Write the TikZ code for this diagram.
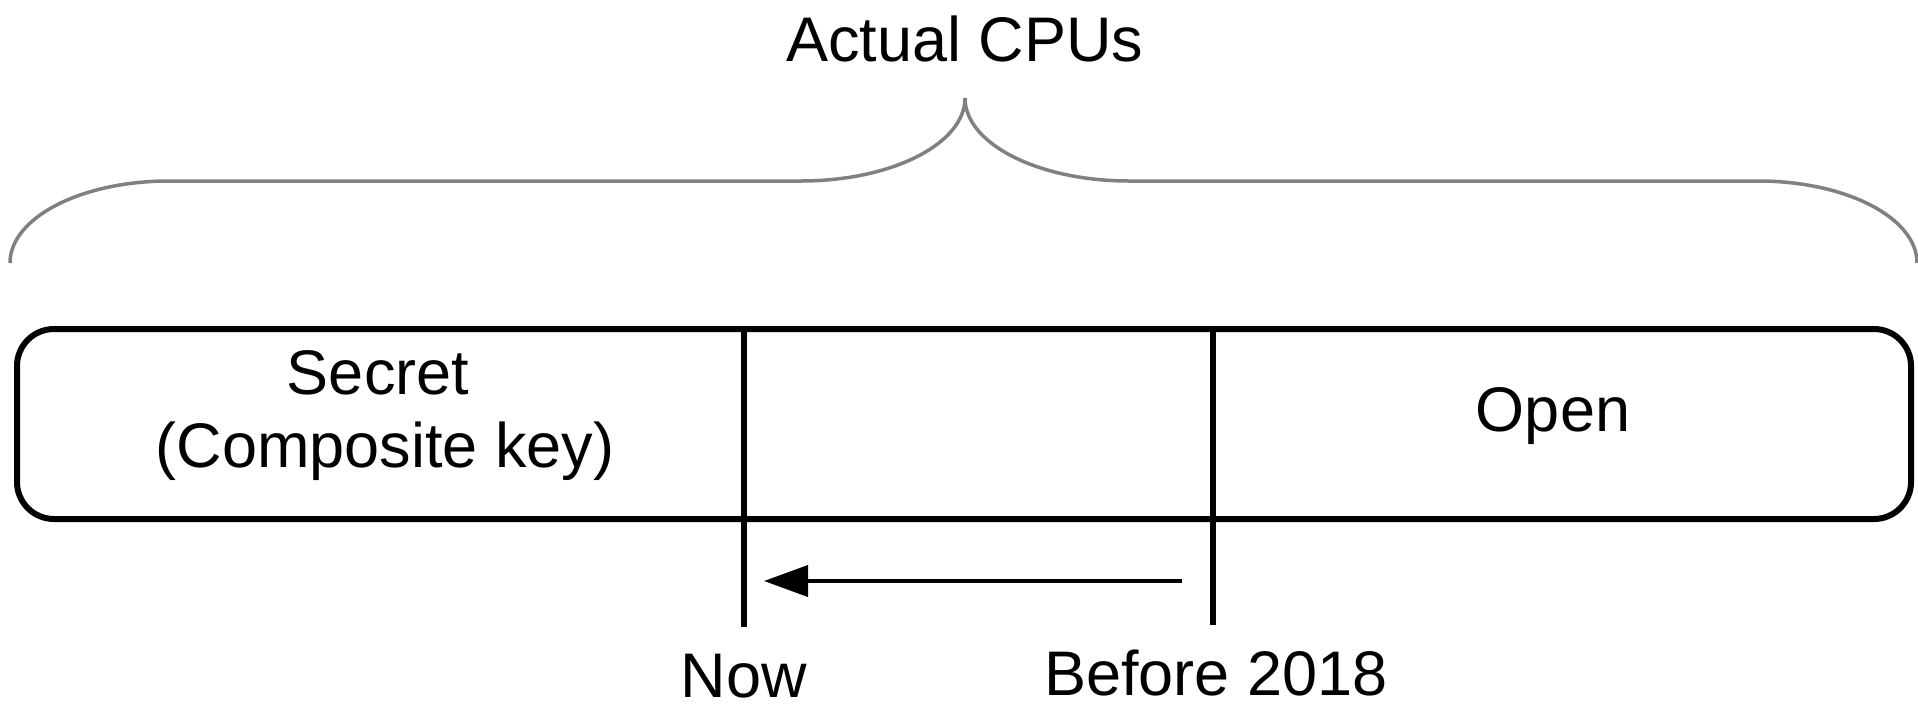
\documentclass[tikz,border=0pt]{standalone}
\usepackage{fontspec}
\setmainfont{Liberation Sans}
\usetikzlibrary{arrows.meta}
\tikzset{
  label text/.style={anchor=base, inner sep=0pt,
    font=\fontsize{63}{73}\selectfont},
  boxline/.style={line width=6pt, draw=black},
  divider/.style={line width=6pt, draw=black},
  brace line/.style={line width=3.5pt, draw=black!50},
  time arrow/.style={line width=4pt, draw=black,
    -{Triangle[length=44pt,width=31pt]}},
}
\begin{document}
\begin{tikzpicture}[x=1pt,y=-1pt]
\useasboundingbox (0,0) rectangle (1918,715);

% curly brace over the whole range
\draw[brace line] (10,263)
  .. controls (10,217.7) and (81.2,181) .. (169,181)
  -- (801,181)
  .. controls (891.6,181) and (965,143.8) .. (965,98)
  .. controls (965,143.8) and (1038.4,181) .. (1129,181)
  -- (1758,181)
  .. controls (1845.8,181) and (1917,217.7) .. (1917,263);
\node[label text] (title) at (965,61) {Actual CPUs};

% the rounded bar
\node[boxline, rectangle, rounded corners=37pt, minimum width=1894pt,
  minimum height=190pt, inner sep=0pt] (bar) at (964,424) {};

% dividers
\coordinate (nowtop) at (744,329);
\coordinate (nowbot) at (744,627);
\coordinate (beftop) at (1213,329);
\coordinate (befbot) at (1213,625);
\draw[divider] (nowtop) -- (nowbot);
\draw[divider] (beftop) -- (befbot);

% region labels
\node[label text] (secret) at (378,394) {Secret};
\node[label text] (secretkey) at (385,467) {(Composite key)};
\node[label text] (open) at (1553,431) {Open};

% shift arrow
\coordinate (arrowstart) at (1182,581);
\coordinate (arrowend) at (764,581);
\draw[time arrow] (arrowstart) -- (arrowend);

% time labels
\node[label text] (now) at (744,697) {Now};
\node[label text] (before) at (1216,695) {Before 2018};
\end{tikzpicture}
\end{document}
